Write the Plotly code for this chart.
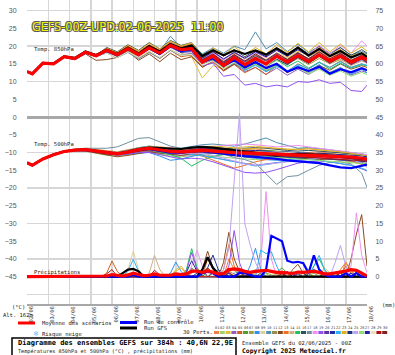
import sys
import plotly.graph_objects as go

# ---------------- data ----------------
HOURS_T = [0] + list(range(6, 384, 12)) + [384]      # time steps (h) of temperature series
HOURS_P = list(range(0, 385, 6))                      # time steps (h) of precipitation series
DAY_HOURS = list(range(0, 385, 24))
DAY_LABELS = ["02/06", "03/06", "04/06", "05/06", "06/06", "07/06", "08/06", "09/06", "10/06",
              "11/06", "12/06", "13/06", "14/06", "15/06", "16/06", "17/06", "18/06"]
LEFT_TICKS = list(range(-45, 31, 5))
RIGHT_TICKS = list(range(0, 76, 5))

PERT_COLORS = ["#f08040", "#a0d070", "#e0c040", "#9060c0", "#d06020", "#50a030", "#a0a040", "#3090f0",
               "#e0d0a0", "#5090b0", "#909050", "#8a4a20", "#f07020", "#d0b080", "#20c060", "#305060",
               "#7090a0", "#f090f0", "#9050f0", "#6030a0", "#2030a0", "#30b0f0", "#e0b020", "#203080",
               "#c0a0f0", "#90e070", "#2020a0", "#e8e0c0", "#b01010", "#802020"]

MEAN_850 = [12.8, 12.2, 15.2, 15.0, 17.0, 16.5, 18.3, 17.3, 18.8, 17.6, 19.3, 17.6, 19.5, 18.0, 20.2, 19.0, 19.3,
            15.5, 17.2, 14.5, 16.8, 14.8, 16.5, 15.0, 17.2, 15.5, 17.3, 15.6, 17.5, 15.8, 17.2, 15.5, 16.8, 16.2]
CTRL_850 = [12.8, 12.2, 15.2, 15.0, 17.0, 16.4, 18.2, 17.2, 18.6, 17.4, 19.2, 17.5, 19.4, 17.8, 20.0, 18.6, 19.0,
            15.5, 16.5, 14.5, 16.0, 14.0, 15.5, 13.8, 15.0, 12.8, 14.0, 13.0, 14.2, 12.2, 13.5, 12.6, 13.8, 13.2]
GFS_850 = [12.8, 12.3, 15.3, 15.1, 17.1, 16.7, 18.5, 17.5, 19.0, 17.8, 19.6, 17.9, 20.0, 18.5, 20.6, 19.4, 20.2,
           17.2, 18.8, 17.4, 18.8, 17.8, 18.8, 17.6, 19.4, 17.6, 19.6, 17.4, 19.2, 17.2, 18.6, 16.8, 18.0, 17.0]
PERTS_850 = [
    [12.8, 12.3, 15.0, 15.2, 16.8, 16.7, 18.0, 17.5, 18.5, 17.9, 19.0, 18.2, 19.8, 18.4, 20.5, 19.8, 20.5, 17.0, 18.5, 16.2, 18.0, 16.5, 18.3, 16.8, 19.0, 17.5, 19.2, 17.0, 18.6, 16.8, 18.0, 16.0, 17.5, 16.8],
    [12.7, 12.1, 15.3, 14.9, 17.2, 16.3, 18.4, 17.0, 18.2, 16.8, 18.6, 16.6, 18.4, 16.8, 19.0, 17.6, 17.4, 14.0, 16.0, 13.2, 15.5, 13.8, 15.5, 14.2, 16.0, 14.6, 16.8, 15.0, 17.0, 15.5, 16.8, 15.0, 16.0, 15.4],
    [12.9, 12.3, 15.1, 15.1, 17.1, 16.6, 18.6, 17.6, 19.2, 18.0, 19.8, 17.8, 20.0, 18.5, 21.0, 18.0, 17.0, 11.0, 14.5, 13.5, 16.5, 15.0, 17.5, 16.2, 18.0, 16.5, 18.5, 17.5, 19.5, 17.8, 19.0, 17.2, 18.5, 17.5],
    [12.8, 12.2, 15.2, 15.0, 16.9, 16.4, 18.2, 17.2, 18.6, 17.4, 19.0, 17.2, 19.2, 17.6, 19.6, 18.2, 18.0, 15.0, 16.2, 13.0, 15.0, 12.8, 14.0, 12.0, 13.8, 11.8, 13.5, 12.0, 13.8, 12.2, 13.5, 11.8, 13.0, 12.5],
    [12.8, 12.2, 15.3, 15.0, 17.1, 16.6, 18.2, 17.0, 18.5, 17.0, 18.8, 16.8, 18.5, 16.5, 18.8, 17.0, 17.5, 14.2, 15.5, 13.0, 14.8, 12.5, 14.0, 12.0, 14.5, 12.8, 15.0, 13.5, 15.5, 14.0, 15.8, 14.0, 15.0, 14.5],
    [12.8, 12.2, 15.1, 15.0, 17.0, 16.5, 18.3, 17.4, 18.9, 17.7, 19.4, 17.8, 19.8, 18.2, 20.4, 19.2, 19.8, 16.0, 17.8, 15.0, 17.4, 15.5, 17.0, 15.8, 17.8, 16.2, 17.8, 16.0, 17.8, 15.5, 17.0, 15.2, 16.5, 16.0],
    [12.9, 12.2, 15.2, 15.0, 17.0, 16.4, 18.2, 17.2, 18.7, 17.5, 19.2, 17.5, 19.5, 18.0, 20.0, 18.8, 19.0, 15.2, 16.8, 14.0, 16.2, 14.2, 16.0, 14.5, 16.8, 15.0, 16.5, 14.8, 16.5, 15.0, 16.2, 14.8, 16.0, 15.5],
    [12.8, 12.1, 15.2, 14.9, 17.0, 16.5, 18.4, 17.4, 18.9, 17.8, 19.6, 18.0, 20.2, 18.4, 20.8, 19.4, 20.2, 16.5, 18.0, 15.2, 17.0, 14.8, 16.2, 13.5, 15.0, 12.8, 14.5, 13.0, 14.8, 12.5, 14.0, 12.0, 13.5, 12.5],
    [12.8, 12.2, 15.2, 15.1, 17.0, 16.6, 18.3, 17.3, 18.7, 17.6, 19.2, 17.5, 19.4, 17.8, 20.0, 18.6, 19.0, 15.5, 17.5, 15.0, 17.5, 15.6, 17.8, 16.2, 18.2, 16.8, 18.8, 17.2, 18.8, 17.0, 18.5, 16.8, 18.0, 17.0],
    [12.8, 12.2, 15.1, 15.0, 17.0, 16.5, 18.3, 17.3, 18.8, 17.6, 19.4, 17.8, 20.0, 18.4, 22.8, 19.5, 20.5, 17.8, 19.5, 18.0, 20.0, 19.0, 24.0, 19.2, 21.0, 18.5, 20.5, 18.2, 20.0, 18.0, 19.5, 17.5, 18.5, 17.8],
    [12.8, 12.3, 15.2, 15.0, 17.1, 16.6, 18.4, 17.4, 18.9, 17.7, 19.5, 17.9, 20.1, 18.5, 20.6, 19.3, 19.8, 16.2, 17.8, 15.6, 17.6, 15.8, 17.2, 16.0, 17.6, 16.2, 18.0, 16.5, 18.2, 16.4, 17.8, 16.0, 17.2, 16.5],
    [12.7, 12.2, 15.1, 14.8, 16.8, 16.2, 17.8, 16.0, 16.2, 16.8, 18.5, 16.0, 17.8, 15.6, 18.0, 16.2, 17.0, 14.0, 15.8, 13.2, 15.0, 13.5, 15.2, 13.0, 14.8, 12.5, 14.2, 12.8, 14.5, 13.2, 15.0, 13.5, 14.5, 14.0],
    [12.8, 12.2, 15.2, 15.0, 17.0, 16.5, 18.3, 17.3, 19.4, 18.2, 20.0, 18.4, 20.4, 18.8, 21.2, 19.8, 20.6, 16.8, 18.6, 16.2, 18.4, 16.4, 18.5, 16.8, 19.2, 17.0, 19.5, 17.2, 19.6, 17.2, 19.0, 16.8, 18.2, 17.2],
    [12.8, 12.2, 15.2, 15.0, 17.0, 16.5, 18.2, 17.2, 18.6, 17.4, 19.0, 17.3, 19.2, 17.6, 19.8, 18.4, 18.6, 15.0, 16.5, 14.2, 16.0, 14.0, 15.8, 14.2, 16.5, 14.8, 16.8, 15.2, 17.0, 15.0, 16.5, 14.5, 15.8, 15.2],
    [12.8, 12.2, 15.2, 15.0, 17.0, 16.5, 18.3, 17.3, 18.8, 17.6, 19.3, 17.6, 19.5, 18.0, 20.2, 18.8, 19.5, 16.0, 17.0, 14.8, 16.4, 14.6, 16.0, 14.4, 16.2, 14.2, 15.8, 13.8, 15.5, 13.5, 15.2, 13.8, 14.8, 14.5],
    [12.8, 12.2, 15.2, 15.0, 17.0, 16.5, 18.4, 17.4, 19.6, 18.4, 20.4, 18.8, 21.0, 19.2, 21.6, 20.2, 21.0, 17.5, 19.2, 17.2, 19.0, 17.0, 18.8, 17.2, 19.4, 17.5, 19.8, 17.8, 20.0, 17.8, 19.6, 17.4, 19.0, 18.0],
    [12.8, 12.2, 15.1, 15.0, 16.9, 16.4, 18.2, 17.2, 18.0, 16.8, 18.2, 16.4, 18.2, 16.6, 18.8, 17.4, 18.0, 15.0, 16.2, 13.8, 15.2, 13.2, 14.8, 12.8, 14.5, 12.8, 14.2, 12.5, 14.0, 12.6, 13.8, 12.4, 13.6, 13.2],
    [12.8, 12.2, 15.2, 15.0, 17.0, 16.5, 18.3, 17.3, 18.8, 17.6, 19.3, 17.7, 19.7, 18.2, 20.4, 19.0, 19.5, 16.2, 18.0, 16.0, 18.2, 16.5, 18.5, 16.8, 19.2, 17.2, 19.8, 17.6, 20.2, 17.8, 20.2, 18.0, 21.5, 20.0],
    [12.8, 12.2, 15.2, 15.0, 17.0, 16.5, 18.3, 17.3, 18.8, 17.6, 19.3, 17.6, 19.5, 17.9, 20.0, 18.5, 18.5, 14.5, 15.2, 11.5, 12.0, 9.0, 9.5, 8.5, 9.0, 8.5, 10.0, 9.8, 10.5, 9.5, 9.8, 7.5, 7.2, 9.0],
    [12.8, 12.2, 15.2, 15.0, 17.0, 16.5, 18.3, 17.3, 18.8, 17.6, 19.3, 17.6, 19.6, 18.1, 20.3, 19.0, 19.6, 16.0, 17.6, 15.4, 17.4, 15.6, 17.4, 15.8, 17.8, 16.0, 18.0, 16.2, 18.2, 16.2, 17.8, 15.8, 17.2, 16.4],
    [12.8, 12.2, 15.2, 15.0, 17.0, 16.5, 18.4, 17.4, 18.9, 17.7, 19.4, 17.6, 19.4, 17.6, 20.0, 18.2, 18.8, 15.2, 16.6, 14.2, 16.0, 14.2, 16.0, 14.6, 16.4, 14.8, 16.8, 15.2, 17.2, 15.4, 17.0, 15.0, 16.4, 15.6],
    [12.8, 12.2, 15.2, 15.0, 17.0, 16.5, 18.3, 17.3, 18.8, 17.6, 19.3, 17.6, 19.5, 18.0, 20.2, 18.8, 19.2, 15.4, 16.8, 14.2, 15.8, 13.2, 14.6, 12.8, 14.2, 13.0, 14.8, 13.6, 15.4, 14.0, 15.6, 14.0, 15.0, 14.6],
    [12.8, 12.2, 15.2, 15.0, 17.0, 16.5, 18.3, 17.3, 19.4, 18.2, 20.2, 18.6, 20.8, 19.2, 21.4, 20.0, 21.0, 17.0, 19.5, 17.5, 19.8, 17.6, 19.6, 17.8, 20.4, 18.2, 20.8, 18.4, 21.0, 18.4, 20.6, 18.0, 19.8, 18.6],
    [12.8, 12.2, 15.2, 15.0, 17.0, 16.5, 18.3, 17.3, 18.8, 17.6, 19.3, 17.6, 19.5, 18.0, 20.2, 18.6, 19.0, 15.8, 17.4, 15.2, 17.0, 15.0, 16.6, 14.8, 16.8, 15.0, 17.0, 15.2, 17.2, 15.2, 16.8, 14.8, 16.2, 15.2],
    [12.8, 12.2, 15.2, 15.0, 17.0, 16.5, 18.3, 17.3, 18.8, 17.6, 19.3, 17.6, 19.6, 18.0, 20.3, 18.8, 19.6, 16.4, 18.2, 16.2, 18.4, 16.4, 18.0, 16.0, 18.0, 15.8, 17.6, 15.6, 17.4, 15.2, 17.0, 14.8, 16.2, 15.0],
    [12.8, 12.2, 15.2, 15.0, 17.0, 16.5, 18.3, 17.3, 18.8, 17.6, 19.3, 17.6, 19.5, 17.8, 20.0, 18.4, 18.8, 15.0, 16.4, 13.8, 15.4, 13.6, 15.0, 13.2, 14.6, 12.6, 14.0, 12.2, 13.5, 11.8, 13.0, 11.5, 12.6, 12.0],
    [12.8, 12.2, 15.2, 15.0, 17.0, 16.5, 18.3, 17.3, 18.8, 17.6, 19.3, 17.7, 19.8, 18.3, 20.5, 19.0, 19.8, 16.6, 18.4, 16.4, 18.2, 16.6, 18.4, 17.0, 18.8, 17.2, 19.0, 17.2, 19.2, 17.0, 18.6, 16.6, 18.0, 17.0],
    [12.8, 12.2, 15.2, 15.0, 17.0, 16.5, 18.3, 17.3, 18.0, 16.8, 18.4, 16.8, 18.6, 16.8, 19.0, 17.4, 17.6, 14.6, 15.8, 13.6, 15.6, 14.0, 15.8, 14.4, 16.6, 15.2, 17.4, 15.8, 18.0, 16.2, 18.2, 16.4, 18.4, 17.2],
    [12.8, 12.2, 15.2, 15.0, 17.0, 16.5, 18.3, 17.3, 18.8, 17.6, 19.3, 17.6, 19.5, 18.0, 20.2, 18.8, 19.4, 15.8, 17.2, 15.0, 16.8, 15.0, 16.8, 15.2, 17.2, 15.4, 17.4, 15.4, 17.4, 15.2, 17.0, 14.8, 16.4, 15.4],
    [12.8, 12.2, 15.2, 15.0, 17.0, 16.5, 18.3, 17.3, 18.8, 17.6, 19.3, 17.6, 19.6, 18.1, 20.4, 19.0, 19.8, 16.2, 17.8, 15.6, 17.6, 15.8, 17.8, 16.0, 18.0, 16.2, 18.2, 16.4, 18.4, 16.4, 18.0, 16.0, 17.4, 16.6],
]

MEAN_500 = [-12.9, -13.6, -11.8, -10.6, -9.7, -9.3, -9.2, -9.6, -10.2, -10.4, -9.9, -9.2, -8.8, -9.2, -9.7, -9.8, -9.5,
            -9.3, -9.6, -9.9, -10.0, -10.1, -10.2, -10.3, -10.4, -10.6, -10.8, -10.9, -10.8, -10.9, -11.0, -11.3, -11.6, -11.9]
CTRL_500 = [-12.9, -13.6, -11.8, -10.6, -9.7, -9.3, -9.3, -9.7, -10.2, -10.4, -9.9, -9.3, -9.0, -9.5, -10.0, -10.0, -9.6,
            -9.6, -10.0, -10.4, -10.8, -11.0, -11.2, -11.4, -11.8, -12.2, -12.4, -12.6, -13.0, -13.6, -14.2, -14.4, -13.8, -13.4]
GFS_500 = [-12.9, -13.6, -11.8, -10.6, -9.7, -9.3, -9.2, -9.6, -10.1, -10.3, -9.7, -9.0, -8.6, -8.8, -9.0, -9.0, -8.6,
           -8.4, -8.6, -9.0, -9.4, -9.8, -10.2, -10.6, -10.8, -10.6, -10.4, -10.6, -10.8, -11.0, -11.2, -11.4, -11.6, -11.8]
PERTS_500 = [
    [-12.9, -13.6, -11.9, -10.5, -9.5, -9.0, -8.8, -9.2, -9.6, -9.8, -9.2, -8.6, -8.2, -8.4, -8.8, -9.0, -8.6, -8.4, -8.8, -9.2, -9.4, -9.2, -9.0, -9.4, -9.8, -10.0, -10.2, -10.0, -9.8, -10.2, -10.6, -11.0, -11.2, -11.4],
    [-12.9, -13.6, -11.8, -10.7, -9.8, -9.5, -9.6, -10.2, -10.8, -11.0, -10.6, -10.0, -9.8, -10.4, -11.0, -11.2, -10.8, -10.6, -11.0, -11.4, -11.6, -11.8, -12.0, -11.6, -11.2, -11.4, -11.8, -12.0, -11.6, -11.8, -12.2, -12.6, -12.8, -13.0],
    [-12.9, -13.5, -11.7, -10.5, -9.6, -9.2, -9.0, -9.4, -9.8, -10.0, -9.6, -9.0, -8.4, -8.8, -9.4, -9.6, -9.0, -8.8, -9.2, -9.0, -8.6, -8.4, -8.2, -8.6, -9.0, -9.2, -9.0, -8.8, -9.2, -9.6, -10.0, -10.4, -10.8, -11.2],
    [-12.9, -13.6, -11.8, -10.6, -9.7, -9.4, -9.4, -9.9, -10.5, -10.8, -10.4, -9.8, -9.6, -10.0, -10.6, -10.8, -10.6, -10.8, -11.4, -12.0, -12.6, -13.2, -13.6, -13.2, -12.8, -12.4, -12.0, -11.8, -11.6, -11.8, -12.0, -12.4, -12.8, -13.2],
    [-12.9, -13.6, -11.8, -10.6, -9.7, -9.3, -9.3, -9.8, -10.4, -10.6, -10.2, -9.6, -9.4, -9.8, -10.2, -10.0, -9.6, -9.4, -9.8, -10.2, -10.6, -10.8, -10.6, -10.4, -10.6, -11.0, -11.4, -11.6, -11.2, -11.0, -11.2, -11.6, -12.0, -12.4],
    [-12.9, -13.6, -11.8, -10.6, -9.6, -9.1, -9.0, -9.3, -9.8, -10.0, -9.5, -8.8, -8.4, -8.8, -9.2, -9.4, -9.0, -8.8, -9.0, -9.4, -9.6, -9.8, -9.6, -9.4, -9.6, -9.8, -10.2, -10.4, -10.2, -10.4, -10.6, -10.8, -11.0, -11.4],
    [-12.9, -13.6, -11.8, -10.6, -9.7, -9.3, -9.2, -9.7, -10.3, -10.6, -10.2, -9.6, -9.2, -9.4, -9.8, -10.0, -9.8, -9.6, -10.0, -10.4, -10.6, -10.4, -10.2, -10.6, -11.0, -11.2, -11.0, -10.8, -11.0, -11.2, -11.4, -11.6, -11.8, -12.0],
    [-12.9, -13.6, -11.8, -10.6, -9.7, -9.3, -9.3, -9.8, -10.4, -10.6, -10.4, -10.0, -10.0, -11.0, -12.2, -11.8, -11.0, -10.4, -10.2, -10.6, -11.0, -11.4, -11.8, -12.0, -12.2, -12.0, -11.8, -11.6, -11.4, -11.6, -11.8, -12.0, -12.2, -12.6],
    [-12.9, -13.6, -11.8, -10.6, -9.7, -9.3, -9.2, -9.6, -10.1, -10.3, -9.8, -9.1, -8.6, -8.8, -9.2, -9.4, -9.2, -9.0, -9.2, -9.6, -9.8, -10.0, -10.0, -10.2, -10.4, -10.6, -10.6, -10.4, -10.6, -10.8, -11.0, -11.2, -11.4, -11.6],
    [-12.9, -13.6, -11.8, -10.6, -9.7, -9.2, -9.1, -9.4, -9.8, -10.0, -9.4, -8.6, -8.2, -8.6, -9.0, -8.8, -8.2, -7.8, -7.6, -7.8, -8.2, -7.6, -6.8, -5.9, -7.2, -8.0, -8.8, -8.6, -8.8, -9.2, -9.6, -10.0, -10.4, -10.6],
    [-12.9, -13.6, -11.8, -10.6, -9.7, -9.3, -9.2, -9.6, -10.2, -10.4, -10.0, -9.4, -9.0, -9.4, -9.8, -10.0, -9.6, -9.2, -9.4, -9.8, -10.2, -10.4, -10.6, -10.8, -10.6, -10.4, -10.6, -10.8, -11.0, -11.2, -11.4, -11.6, -11.8, -12.2],
    [-12.9, -13.6, -11.8, -10.6, -9.8, -9.5, -9.6, -10.2, -10.8, -11.2, -10.8, -10.2, -9.8, -10.2, -10.6, -10.8, -10.4, -10.0, -10.2, -10.6, -11.0, -11.2, -11.4, -11.2, -11.0, -11.2, -11.6, -11.8, -12.0, -11.8, -11.6, -11.8, -12.2, -12.6],
    [-12.9, -13.6, -11.8, -10.6, -9.7, -9.3, -9.2, -9.6, -10.1, -10.3, -9.8, -9.2, -8.8, -9.2, -9.6, -9.8, -10.2, -11.0, -12.2, -13.2, -14.4, -13.6, -12.6, -12.0, -11.6, -11.4, -11.2, -11.0, -11.2, -11.4, -11.8, -12.4, -13.2, -13.8],
    [-12.9, -13.6, -11.8, -10.6, -9.7, -9.3, -9.2, -9.6, -10.2, -10.4, -9.9, -9.2, -8.8, -9.2, -9.8, -10.0, -9.6, -9.4, -9.6, -9.8, -9.6, -9.4, -9.6, -9.8, -10.0, -10.2, -10.4, -10.6, -10.4, -10.6, -10.8, -11.0, -11.4, -11.8],
    [-12.9, -13.6, -11.8, -10.6, -9.7, -9.3, -9.2, -9.6, -10.2, -10.4, -10.0, -9.4, -9.2, -9.8, -10.6, -11.6, -13.8, -12.2, -11.0, -10.6, -10.4, -10.2, -10.0, -10.2, -10.4, -10.6, -10.8, -11.0, -10.8, -11.0, -11.2, -11.4, -11.6, -12.0],
    [-12.9, -13.6, -11.8, -10.6, -9.7, -9.3, -9.2, -9.5, -10.0, -10.2, -9.7, -9.0, -8.6, -8.9, -9.3, -9.4, -9.0, -8.6, -8.6, -8.8, -9.0, -8.8, -8.6, -8.8, -9.2, -9.4, -9.6, -9.4, -9.6, -9.8, -10.0, -10.2, -10.6, -11.0],
    [-12.9, -13.6, -11.8, -10.6, -9.6, -9.1, -8.8, -8.8, -8.8, -8.4, -7.2, -6.0, -5.8, -7.0, -8.2, -8.8, -9.0, -9.2, -9.6, -10.4, -11.4, -12.0, -13.0, -16.0, -19.0, -16.8, -16.5, -15.0, -13.6, -12.8, -12.6, -13.2, -15.8, -19.8],
    [-12.9, -13.6, -11.8, -10.6, -9.7, -9.3, -9.2, -9.5, -10.0, -10.1, -9.6, -9.0, -8.6, -9.0, -9.4, -9.4, -9.0, -8.8, -8.4, -8.0, -7.8, -7.6, -7.8, -8.2, -8.4, -8.2, -8.0, -8.4, -8.8, -9.2, -9.6, -9.8, -10.2, -10.6],
    [-12.9, -13.6, -11.8, -10.6, -9.7, -9.3, -9.3, -9.8, -10.4, -10.7, -10.4, -10.0, -10.0, -10.6, -11.4, -11.8, -11.6, -11.8, -12.6, -13.6, -14.6, -15.6, -15.8, -15.6, -14.8, -13.8, -13.0, -12.6, -12.4, -12.6, -13.0, -13.6, -14.6, -15.2],
    [-12.9, -13.6, -11.8, -10.6, -9.7, -9.3, -9.2, -9.6, -10.2, -10.4, -9.9, -9.3, -9.0, -9.4, -9.8, -10.0, -9.8, -9.6, -9.8, -10.0, -10.2, -10.4, -10.6, -10.8, -11.0, -11.2, -11.4, -11.2, -11.0, -11.2, -11.4, -11.8, -12.0, -12.4],
    [-12.9, -13.6, -11.8, -10.6, -9.7, -9.3, -9.2, -9.7, -10.3, -10.5, -10.0, -9.2, -8.8, -9.0, -9.4, -9.6, -9.4, -9.2, -9.4, -9.6, -9.8, -9.8, -10.0, -10.2, -10.0, -9.8, -10.0, -10.2, -10.4, -10.6, -10.6, -10.8, -11.0, -11.4],
    [-12.9, -13.6, -11.8, -10.6, -9.7, -9.3, -9.2, -9.6, -10.2, -10.4, -9.9, -9.2, -8.8, -9.2, -9.8, -10.2, -10.4, -10.8, -11.4, -12.0, -12.6, -13.4, -13.8, -13.4, -12.8, -12.4, -12.2, -12.0, -12.2, -12.6, -13.0, -13.6, -14.4, -15.0],
    [-12.9, -13.6, -11.8, -10.6, -9.7, -9.3, -9.2, -9.5, -10.0, -10.2, -9.6, -8.8, -8.4, -8.6, -9.0, -9.2, -8.8, -8.4, -8.2, -8.4, -8.8, -9.0, -8.8, -8.6, -8.8, -9.0, -9.2, -9.0, -9.2, -9.4, -9.8, -10.2, -10.6, -11.0],
    [-12.9, -13.6, -11.8, -10.6, -9.7, -9.3, -9.2, -9.6, -10.2, -10.4, -10.0, -9.4, -9.0, -9.4, -9.8, -10.0, -9.6, -9.4, -9.6, -10.0, -10.4, -10.6, -10.8, -11.0, -11.2, -11.4, -11.6, -11.4, -11.6, -11.8, -12.0, -12.2, -12.4, -12.6],
    [-12.9, -13.6, -11.8, -10.6, -9.7, -9.3, -9.2, -9.6, -10.2, -10.4, -10.0, -9.4, -9.0, -9.4, -10.0, -10.4, -10.2, -10.2, -10.8, -11.6, -12.4, -13.2, -13.6, -13.4, -13.0, -12.6, -12.2, -11.8, -11.6, -11.4, -11.6, -12.0, -13.0, -14.2],
    [-12.9, -13.6, -11.8, -10.6, -9.7, -9.3, -9.2, -9.6, -10.2, -10.4, -9.9, -9.3, -8.9, -9.2, -9.6, -9.8, -9.4, -9.2, -9.4, -9.8, -10.2, -10.6, -11.0, -11.2, -11.4, -11.6, -11.8, -12.0, -12.2, -12.4, -12.6, -12.8, -13.0, -13.2],
    [-12.9, -13.6, -11.8, -10.6, -9.7, -9.3, -9.2, -9.6, -10.1, -10.3, -9.8, -9.1, -8.7, -9.0, -9.4, -9.6, -9.2, -8.9, -9.0, -9.2, -9.4, -9.6, -9.4, -9.6, -9.8, -10.0, -10.2, -10.4, -10.2, -10.4, -10.6, -10.8, -11.0, -11.2],
    [-12.9, -13.6, -11.8, -10.6, -9.7, -9.3, -9.2, -9.6, -10.2, -10.4, -9.9, -9.2, -8.8, -9.1, -9.5, -9.7, -9.4, -9.2, -9.4, -9.6, -9.8, -10.0, -10.2, -10.0, -9.8, -10.0, -10.2, -10.4, -10.6, -10.8, -11.0, -11.0, -11.2, -11.6],
    [-12.9, -13.6, -11.8, -10.6, -9.7, -9.3, -9.3, -9.8, -10.4, -10.6, -10.2, -9.6, -9.2, -9.6, -10.0, -10.2, -10.0, -9.8, -10.0, -10.2, -10.4, -10.6, -10.8, -10.6, -10.8, -11.0, -11.2, -11.2, -11.4, -11.6, -11.8, -12.0, -12.2, -12.4],
    [-12.9, -13.6, -11.8, -10.6, -9.7, -9.3, -9.2, -9.6, -10.1, -10.3, -9.8, -9.2, -8.8, -9.2, -9.6, -9.8, -9.4, -9.0, -9.2, -9.4, -9.6, -9.8, -10.0, -10.2, -10.4, -10.6, -10.4, -10.2, -10.4, -10.6, -10.8, -11.2, -11.4, -11.8],
]

MEAN_PRECIP = [0, 0, 0, 0, 0, 0, 0, 0, 0, 0, 0, 0, 0, 0, 0, 0.2, 0.6, 0.3, 0.2, 0.5, 1.0, 0.6, 0.3, 0.4, 0.8,
               0.4, 0.3, 0.4, 0.8, 0.6, 0.8, 1.5, 1.6, 1.2, 1.7, 1.3, 0.8, 0.9, 2.0, 2.2, 2.0, 1.5, 1.2, 1.5, 1.6,
               1.8, 1.5, 1.2, 1.2, 1.0, 0.9, 1.3, 1.2, 1.4, 1.5, 1.2, 0.8, 0.8, 1.0, 1.2, 1.6, 2.0, 1.8, 1.0, 0.2]
# non-zero precipitation events (hour, mm)
CTRL_PRECIP = [[120, 0.5], [198, 1.0], [204, 1.5], [210, 1.0], [240, 1.0], [246, 1.2], [252, 0.5], [270, 2.0],
               [276, 11.5], [282, 10.8], [288, 10.0], [294, 4.5], [300, 4.0], [306, 4.2], [312, 3.8], [318, 1.0],
               [324, 6.0], [330, 2.0], [336, 0.5], [360, 1.0], [372, 1.0]]
GFS_PRECIP = [[108, 1.0], [114, 2.0], [120, 2.2], [126, 1.5], [198, 2.0], [204, 5.5], [210, 2.5], [216, 0.8]]
PERTS_PRECIP = [
    [[186, 1.0], [192, 2.5], [198, 1.0], [228, 5.0], [234, 2.0], [330, 1.5], [360, 4.0], [366, 2.0]],
    [[144, 0.8], [150, 0.3], [168, 0.6], [216, 1.2], [222, 0.5], [252, 1.0], [258, 0.5], [300, 1.5], [306, 0.8], [348, 0.8]],
    [[168, 2.0], [174, 3.0], [180, 1.0], [252, 1.0], [258, 2.0], [264, 0.5], [336, 2.5], [342, 1.0]],
    [[180, 0.8], [186, 2.0], [192, 1.2], [228, 1.5], [234, 0.8], [270, 1.2], [324, 2.2], [330, 1.0]],
    [[90, 1.0], [96, 4.4], [102, 1.5], [204, 5.0], [210, 2.0], [360, 3.0], [366, 1.0]],
    [[186, 2.5], [192, 1.0], [222, 1.0], [246, 0.8], [282, 1.2], [288, 2.5], [294, 1.0], [354, 1.2]],
    [[150, 0.5], [204, 1.5], [210, 0.8], [270, 1.0], [276, 0.5], [312, 1.0], [360, 0.8]],
    [[162, 1.0], [168, 4.1], [174, 1.5], [252, 3.0], [258, 8.0], [264, 2.0], [318, 1.5], [324, 1.0]],
    [[114, 2.0], [120, 7.2], [126, 2.0], [198, 1.5], [204, 1.0], [240, 1.2], [330, 0.8], [372, 1.5]],
    [[144, 0.5], [222, 1.0], [228, 0.8], [300, 0.8], [336, 1.2], [378, 0.6]],
    [[126, 0.6], [216, 1.4], [222, 0.6], [252, 1.0], [282, 0.6], [342, 1.0]],
    [[198, 2.0], [204, 7.2], [210, 2.5], [222, 4.0], [228, 12.5], [234, 5.0], [240, 1.5], [300, 2.0], [306, 3.5],
     [312, 1.0], [366, 5.0], [372, 12.0], [378, 17.5], [384, 3.0]],
    [[222, 2.0], [228, 9.1], [234, 3.0], [354, 2.0], [360, 4.0], [366, 1.5]],
    [[138, 1.0], [144, 6.0], [150, 2.0], [210, 1.2], [246, 1.6], [300, 1.0], [360, 1.0]],
    [[180, 2.0], [186, 7.9], [192, 2.5], [324, 3.0], [330, 5.0], [336, 2.0]],
    [[210, 1.0], [216, 2.0], [222, 0.8], [264, 1.0], [318, 0.8], [372, 1.2]],
    [[198, 1.0], [234, 1.0], [240, 1.5], [246, 0.5], [288, 1.4], [342, 0.8]],
    [[186, 3.0], [192, 7.4], [198, 3.0], [264, 4.0], [270, 24.0], [276, 5.0], [366, 3.0], [372, 18.0], [378, 6.0], [384, 1.0]],
    [[180, 1.5], [186, 6.8], [192, 2.0], [228, 3.0], [234, 13.0], [240, 4.0]],
    [[192, 1.0], [198, 2.0], [240, 1.6], [306, 0.8], [348, 1.2]],
    [[204, 2.5], [210, 6.1], [216, 2.0], [288, 1.0]],
    [[114, 1.5], [120, 4.9], [126, 1.5], [264, 7.5], [270, 6.5], [276, 7.0], [282, 3.0], [324, 3.0], [330, 6.0], [336, 2.0]],
    [[168, 1.5], [174, 2.5], [180, 0.8], [228, 2.0], [282, 1.0], [318, 1.2], [366, 0.8]],
    [[180, 1.2], [186, 4.5], [192, 1.5], [294, 1.5]],
    [[216, 1.0], [222, 2.0], [228, 8.0], [234, 26.0], [240, 46.0], [246, 15.0], [252, 9.0], [258, 4.0], [264, 1.0],
     [348, 4.0], [354, 8.8], [360, 3.0]],
    [[198, 0.8], [258, 1.0], [264, 2.0], [270, 0.8], [324, 1.0], [378, 1.4]],
    [[228, 1.0], [252, 0.8], [306, 1.5], [312, 1.0], [366, 1.0]],
    [[120, 1.0], [168, 0.6], [234, 1.5], [276, 1.2], [342, 1.0]],
    [[90, 0.8], [96, 2.0], [144, 1.8], [150, 0.5], [228, 1.2], [288, 0.8], [354, 1.0]],
    [[198, 1.0], [204, 2.5], [210, 1.0], [246, 1.0], [294, 1.2], [336, 0.8]],
]

for name, arr in (("850", PERTS_850), ("500", PERTS_500)):
    for i, s in enumerate(arr):
        if len(s) != len(HOURS_T):
            print("length mismatch", name, i, len(s), file=sys.stderr)


def precip_series(events):
    vals = [0.0] * len(HOURS_P)
    for h, mm in events:
        vals[HOURS_P.index(h)] = mm
    return vals


# ---------------- layout helpers (pixel -> paper) ----------------
W, H = 395, 355
L, R, T, B = 27, 367, 0, 304


def px(x):
    return (x - L) / (R - L)


def py(y):
    return (B - y) / (B - T)


YMIN, YMAX = -52.7, 33.0
OFFSET = 45  # right axis = left axis + 45

fig = go.Figure()

for i in range(30):
    fig.add_trace(go.Scatter(x=HOURS_T, y=PERTS_850[i], mode="lines",
                             line=dict(color=PERT_COLORS[i], width=1), yaxis="y"))
for i in range(30):
    fig.add_trace(go.Scatter(x=HOURS_T, y=PERTS_500[i], mode="lines",
                             line=dict(color=PERT_COLORS[i], width=1), yaxis="y"))
for series, col, w in ((GFS_850, "#000000", 2.2), (CTRL_850, "#0000ff", 2.2), (MEAN_850, "#ff0000", 3.2),
                       (GFS_500, "#000000", 2.2), (CTRL_500, "#0000ff", 2.2), (MEAN_500, "#ff0000", 3.2)):
    fig.add_trace(go.Scatter(x=HOURS_T, y=series, mode="lines", line=dict(color=col, width=w), yaxis="y"))

for i in range(30):
    fig.add_trace(go.Scatter(x=HOURS_P, y=precip_series(PERTS_PRECIP[i]), mode="lines",
                             line=dict(color=PERT_COLORS[i], width=1), yaxis="y2"))
fig.add_trace(go.Scatter(x=HOURS_P, y=precip_series(GFS_PRECIP), mode="lines",
                         line=dict(color="#000000", width=2.2), yaxis="y2"))
fig.add_trace(go.Scatter(x=HOURS_P, y=precip_series(CTRL_PRECIP), mode="lines",
                         line=dict(color="#0000ff", width=2.2), yaxis="y2"))
fig.add_trace(go.Scatter(x=HOURS_P, y=MEAN_PRECIP, mode="lines",
                         line=dict(color="#ff0000", width=3.2), yaxis="y2"))
# dummy trace so that the left label axis is drawn
fig.add_trace(go.Scatter(x=[None], y=[None], yaxis="y3", showlegend=False))

tick_font = dict(family="Liberation Sans, Arial, sans-serif", size=7, color="#555555")
mono = "DejaVu Sans Mono, monospace"

fig.update_layout(
    width=W, height=H, autosize=False,
    margin=dict(l=L, r=W - R, t=T, b=H - B, pad=0),
    paper_bgcolor="white", plot_bgcolor="white",
    showlegend=False, hovermode=False,
    xaxis=dict(range=[0, 384], tickmode="array", tickvals=DAY_HOURS, showticklabels=False,
               showgrid=True, gridcolor="#d6d6d6", gridwidth=1.5,
               showline=True, linecolor="#a8a8a8", linewidth=2, ticks="", zeroline=False, fixedrange=True),
    yaxis=dict(range=[YMIN, YMAX], tick0=0, dtick=10, showgrid=True, gridcolor="#d6d6d6", gridwidth=1.5,
               showticklabels=False, ticks="", zeroline=True, zerolinecolor="#a8a8a8", zerolinewidth=3,
               fixedrange=True),
    yaxis2=dict(range=[YMIN + OFFSET, YMAX + OFFSET], overlaying="y", side="right", anchor="x",
                tickmode="array", tickvals=RIGHT_TICKS, showgrid=False, zeroline=False,
                ticks="outside", ticklen=6, tickcolor="rgba(0,0,0,0)", tickfont=tick_font, fixedrange=True),
    yaxis3=dict(range=[YMIN, YMAX], overlaying="y", side="left", anchor="x",
                tickmode="array", tickvals=LEFT_TICKS, showgrid=False, zeroline=False,
                ticks="outside", ticklen=8, tickcolor="rgba(0,0,0,0)", tickfont=tick_font, fixedrange=True),
)

ann = []


def text(x, y, s, size=5.5, color="#222222", family=mono, anchor="left", weight="normal", **kw):
    ann.append(dict(x=px(x), y=py(y), xref="paper", yref="paper", text=s, showarrow=False,
                    xanchor=anchor, yanchor="middle",
                    font=dict(size=size, color=color, family=family, weight=weight), **kw))


# rotated date labels under each day gridline
for h, lab in zip(DAY_HOURS, DAY_LABELS):
    ann.append(dict(x=h, xref="x", y=py(305), yref="paper", text=lab, showarrow=False, textangle=-90,
                    xanchor="center", yanchor="top", xshift=3, borderpad=0,
                    font=dict(size=5.5, color="#333333", family=mono)))

outline = "#5a5a5a"
ann.append(dict(x=px(30), y=py(27), xref="paper", yref="paper",
                text="GEFS-00Z-UPD:02-06-2025\u00a0\u00a011:00", showarrow=False,
                xanchor="left", yanchor="middle",
                font=dict(size=12.5, color="#f2f000",
                          family="Liberation Sans Narrow, DejaVu Sans Condensed, Liberation Sans, sans-serif",
                          shadow=f"-1px -1px 0 {outline}, 1px -1px 0 {outline}, -1px 1px 0 {outline}, 1px 1px 0 {outline}")))
text(32, 49, "Temp. 850hPa")
text(32, 144, "Temp. 500hPa")
text(32, 272, "Précipitations")
text(10, 307, "(°C)")
text(1, 315, "Alt. 162m")
text(380, 305, "(mm)")
text(40, 323, "Moyenne des scénarios")
text(142, 322, "Run de contrôle")
text(142, 327.5, "Run GFS")
text(181, 332, "30 Perts.")
text(40, 334, "Risque neige")
text(31, 333.5, "❄", size=7, color="#7ab8f0", family="DejaVu Sans")
text(16, 343, "Diagramme des ensembles GEFS sur 384h : 40,6N 22,9E", size=7, color="#000000", weight="bold")
text(16, 351, "Températures 850hPa et 500hPa (°C) , précipitations (mm)", size=5.2, color="#222222")
text(240, 343, "Ensemble GEFS du 02/06/2025 - 00Z", size=5.5)
text(240, 351, "Copyright 2025 Meteociel.fr", size=6.4, color="#000000", weight="bold")

shapes = []
for x0, x1, y, col in ((18, 35, 323, "#ff0000"), (120, 137, 322.5, "#0000ff"), (120, 137, 328, "#000000")):
    shapes.append(dict(type="line", xref="paper", yref="paper", x0=px(x0), x1=px(x1), y0=py(y), y1=py(y),
                       line=dict(color=col, width=3)))
shapes.append(dict(type="rect", xref="paper", yref="paper", x0=px(12), x1=px(236), y0=py(338), y1=py(357),
                   line=dict(color="#000000", width=1.5), fillcolor="white", layer="below"))
for i, col in enumerate(PERT_COLORS):
    x0 = 214 + i * 5.8
    shapes.append(dict(type="rect", xref="paper", yref="paper", x0=px(x0), x1=px(x0 + 5), y0=py(334),
                       y1=py(331), line=dict(width=0), fillcolor=col))
    text(x0 + 2.5, 327.5, f"{i + 1:02d}", size=3.6, color="#333333", anchor="center")

fig.update_layout(annotations=ann, shapes=shapes)
fig.write_html("out.html", config={"displayModeBar": False, "staticPlot": True},
               post_script="document.body.style.margin='0px';document.body.style.padding='0px';")
